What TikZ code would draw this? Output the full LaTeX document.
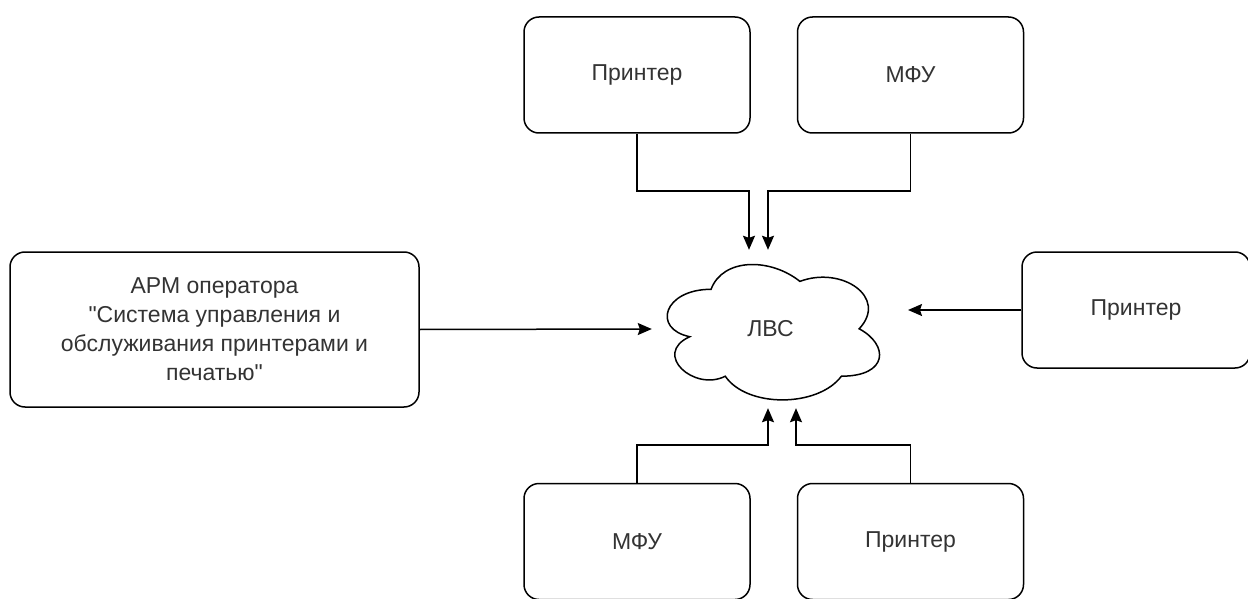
\documentclass[tikz,border=0pt]{standalone}
\usepackage{fontspec}
\setmainfont{Liberation Sans}[Ligatures=TeXOff]
\usetikzlibrary{arrows.meta}
\begin{document}
\begin{tikzpicture}[x=1pt,y=-1pt]
    \tikzstyle{device} = [draw,line width=1.5pt,rounded corners=15pt,minimum width=226pt,minimum height=116pt,inner sep=0pt,text=black!80,font=\fontsize{23}{31}\selectfont]
    \tikzstyle{link} = [line width=1.5pt,-{Stealth[length=14pt,width=12pt,inset=2pt]}]
        \useasboundingbox (0,0) rectangle (1248,599);
        \node[device] (prn1) at (637,75) {Принтер};
        \node[device] (mfu1) at (910.5,75) {МФУ};
        \node[device,minimum width=409pt,minimum height=155pt,align=center,font=\fontsize{23}{29}\selectfont] (arm) at (214.5,329.5) {АРМ оператора\\"Система управления и\\обслуживания принтерами и\\печатью"};
        \node[device,minimum width=228pt] (prn2) at (1136,310) {Принтер};
        \node[device] (mfu2) at (637,541.5) {МФУ};
        \node[device] (prn3) at (910.5,541.5) {Принтер};
        \node[minimum width=237pt,minimum height=158pt,inner sep=0pt,text=black!80,font=\fontsize{23}{31}\selectfont] (lan) at (770.5,329) {ЛВС};
        \draw[line width=1.5pt,shift={(lan.north west)},x=237pt,y=-158pt]
            (0.25,0.25) .. controls (0.05,0.25) and (0,0.5) .. (0.16,0.55)
            .. controls (0,0.66) and (0.18,0.9) .. (0.31,0.8)
            .. controls (0.4,1) and (0.7,1) .. (0.8,0.8)
            .. controls (1,0.8) and (1,0.6) .. (0.875,0.5)
            .. controls (1,0.3) and (0.8,0.1) .. (0.625,0.2)
            .. controls (0.5,0.05) and (0.3,0.05) .. (0.25,0.25) -- cycle;
        \coordinate (lanE) at (908,310);
        \draw[link] (prn1.south) -- ++(0,57) -| ([xshift=-21.5pt]lan.north);
        \draw[link] (mfu1.south) -- ++(0,57) -| ([xshift=-2.5pt]lan.north);
        \draw[link] (arm.east) -- (lan.west);
        \draw[link] (prn2.west) -- (lanE);
        \draw[link] (mfu2.north) -- ++(0,-38) -| ([xshift=-2.5pt]lan.south);
        \draw[link] (prn3.north) -- ++(0,-38) -| ([xshift=25.5pt]lan.south);
\end{tikzpicture}
\end{document}
